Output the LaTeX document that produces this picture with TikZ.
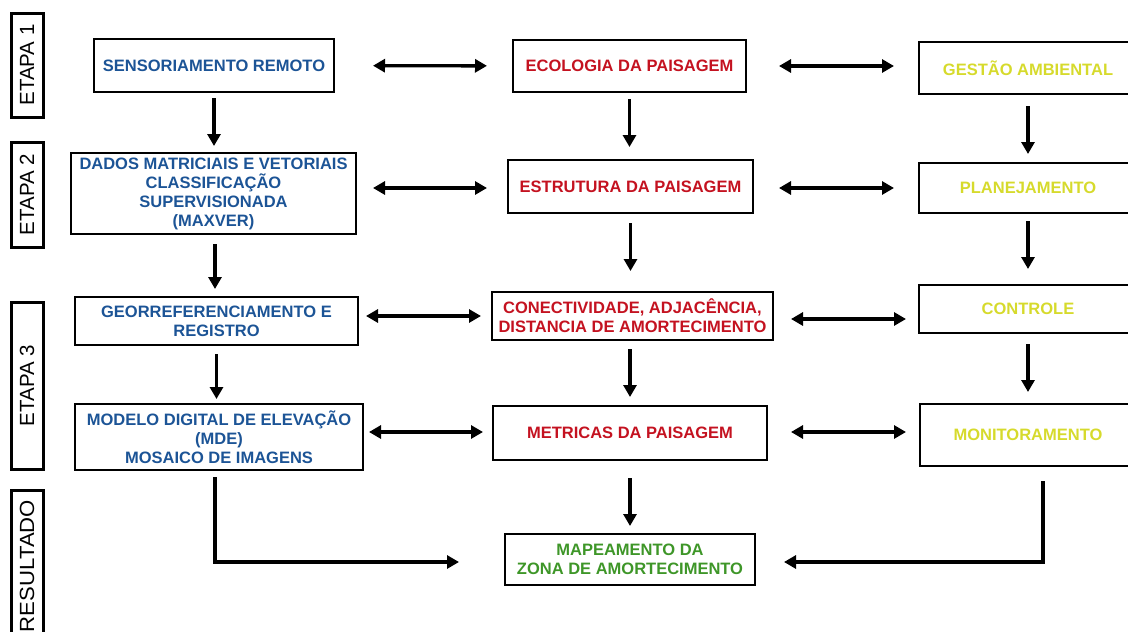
\documentclass[tikz,border=0pt]{standalone}
\usepackage{fontspec}
\setmainfont{Liberation Sans}
\usetikzlibrary{positioning,arrows.meta,calc}

\definecolor{azulsr}{RGB}{28,84,150}
\definecolor{vermelhoep}{RGB}{196,18,32}
\definecolor{amarelogs}{RGB}{214,218,44}
\definecolor{verderes}{RGB}{62,150,40}

\begin{document}
\begin{tikzpicture}[x=1pt,y=-1pt,
    caixa/.style={draw, line width=2pt, align=center, inner sep=2pt,
      font=\fontsize{16.5}{19}\selectfont\bfseries},
    etapa/.style={draw, line width=3pt, rotate=90, inner sep=0pt,
      minimum height=32pt, font=\fontsize{20.5}{22}\selectfont},
    seta/.style={line width=3.4pt, -{Triangle[length=12pt,width=13pt]}},
    dupla/.style={line width=3.4pt, {Triangle[length=12pt,width=13pt]}-{Triangle[length=12pt,width=13pt]}}]
        \useasboundingbox (0,0) rectangle (1128,632);
        \clip (0,0) rectangle (1128,632);

        % Etapas
        \node[etapa, minimum width=104pt] (et1) at (27,65) {ETAPA 1};
        \node[etapa, minimum width=105pt] (et2) at (27,194.5) {ETAPA 2};
        \node[etapa, minimum width=167pt] (et3) at (27,385.5) {ETAPA 3};
        \node[etapa, minimum width=152pt] (res) at (27,566) {\scalebox{1.08}[1]{RESULTADO}};

        % Sensoriamento remoto
        \node[caixa, text=azulsr, minimum width=240pt, minimum height=53pt] (sens) at (214,65.5) {SENSORIAMENTO REMOTO};
        \node[caixa, text=azulsr, minimum width=285pt, minimum height=81pt] (dados) at (213.5,193.5)
          {DADOS MATRICIAIS E VETORIAIS\\CLASSIFICAÇÃO\\SUPERVISIONADA\\(MAXVER)};
        \node[caixa, text=azulsr, minimum width=283pt, minimum height=48pt] (geo) at (216.5,321)
          {GEORREFERENCIAMENTO E\\REGISTRO};
        \node[caixa, text=azulsr, minimum width=288pt, minimum height=66pt] (modelo) at (219,437)
          {MODELO DIGITAL DE ELEVAÇÃO\\(MDE)\\MOSAICO DE IMAGENS};

        % Ecologia da paisagem
        \node[caixa, text=vermelhoep, minimum width=233pt, minimum height=52pt] (eco) at (629.5,66) {ECOLOGIA DA PAISAGEM};
        \node[caixa, text=vermelhoep, minimum width=245pt, minimum height=53pt] (estr) at (630.5,186.5) {ESTRUTURA DA PAISAGEM};
        \node[caixa, text=vermelhoep, minimum width=281pt, minimum height=48pt] (con) at (632.5,316)
          {CONECTIVIDADE, ADJACÊNCIA,\\DISTANCIA DE AMORTECIMENTO};
        \node[caixa, text=vermelhoep, minimum width=274pt, minimum height=54pt] (met) at (630,433) {METRICAS DA PAISAGEM};

        % Gestao ambiental
        \node[caixa, text=amarelogs, minimum width=218pt, minimum height=52pt] (ges) at (1028,68) {GESTÃO AMBIENTAL};
        \node[caixa, text=amarelogs, minimum width=218pt, minimum height=50pt] (pla) at (1028,188) {PLANEJAMENTO};
        \node[caixa, text=amarelogs, minimum width=218pt, minimum height=48pt] (ctl) at (1028,309) {CONTROLE};
        \node[caixa, text=amarelogs, minimum width=216pt, minimum height=62pt] (mon) at (1028,435) {MONITORAMENTO};

        % Resultado
        \node[caixa, text=verderes, minimum width=250pt, minimum height=51pt] (map) at (630,559.5)
          {MAPEAMENTO DA\\ZONA DE AMORTECIMENTO};

        % Setas verticais
        \draw[seta, shorten <=5pt, shorten >=6pt] (sens) -- (sens |- dados.north);
        \draw[seta, shorten <=9pt, shorten >=7pt] ([xshift=1.5pt]dados.south) -- ([xshift=1.5pt]dados.south |- geo.north);
        \draw[seta, shorten <=8pt, shorten >=4pt] (geo) -- (geo |- modelo.north);
        \draw[seta, shorten <=6pt, shorten >=12pt] (eco) -- (eco |- estr.north);
        \draw[seta, shorten <=9pt, shorten >=20pt] (estr) -- (estr |- con.north);
        \draw[seta, shorten <=8pt, shorten >=8pt] (met |- con.south) -- (met);
        \draw[seta, shorten <=17pt, shorten >=7pt] (met) -- (met |- map.north);
        \draw[seta, shorten <=11pt, shorten >=8pt] (ges) -- (pla);
        \draw[seta, shorten <=7pt, shorten >=15pt] (pla) -- (ctl);
        \draw[seta, shorten <=10pt, shorten >=11pt] (ctl) -- (mon);

        % Setas horizontais
        \draw[dupla, shorten <=38pt, shorten >=25pt] (sens) -- (eco);
        \draw[dupla, shorten <=32pt, shorten >=24pt] (eco) -- (eco -| ges.west);
        \draw[dupla, shorten <=16pt, shorten >=20pt] (dados.east |- pla) -- (estr.west |- pla);
        \draw[dupla, shorten <=25pt, shorten >=24pt] (estr.east |- pla) -- (pla);
        \draw[dupla, shorten <=7pt, shorten >=10pt] (geo.east |- con) -- (con);
        \draw[dupla, shorten <=17pt, shorten >=12pt] ([yshift=-3pt]con.east) -- ([yshift=-3pt]con.east -| ctl.west);
        \draw[dupla, shorten <=5pt, shorten >=9pt] ([yshift=1pt]modelo.east |- met) -- ([yshift=1pt]met.west);
        \draw[dupla, shorten <=23pt, shorten >=13pt] ([yshift=1pt]met.east) -- ([yshift=1pt]met.east -| mon.west);

        % Resultado
        \draw[seta, line cap=rect, shorten <=8pt, shorten >=45pt] ([xshift=-4pt]modelo.south) |- ([yshift=-2.5pt]map.west);
        \draw[seta, line cap=rect, shorten <=16pt, shorten >=28pt] ([xshift=15pt]mon.south) |- ([yshift=-2.5pt]map.east);
    \end{tikzpicture}
\end{document}
